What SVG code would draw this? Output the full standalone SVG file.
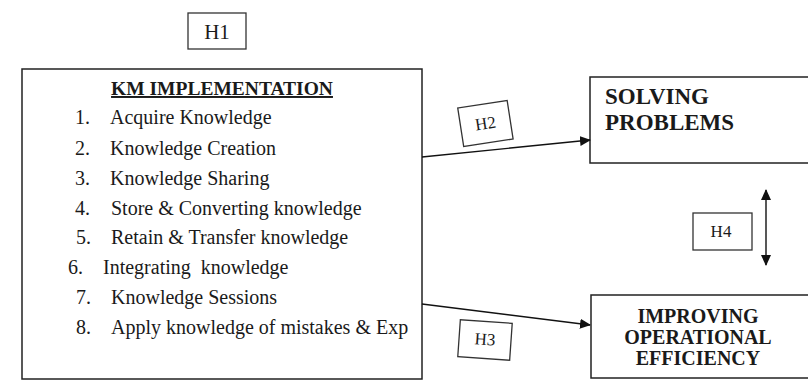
<svg xmlns="http://www.w3.org/2000/svg" width="808" height="385" viewBox="0 0 808 385">
<defs>
<style>
.box{fill:#fff;stroke:#222;stroke-width:1.5}
.lbl{fill:#fff;stroke:#333;stroke-width:1.3}
.t{font-family:"Liberation Serif","Times New Roman",serif;fill:#1a1a1a}
.item{font-size:20px;white-space:pre}
.hb{font-size:17px;text-anchor:middle}
.bold{font-weight:bold}
.conn{stroke:#111;stroke-width:1.4;fill:none}
</style>
<marker id="ah" markerWidth="11" markerHeight="10" refX="10" refY="5" orient="auto" markerUnits="userSpaceOnUse">
<path d="M0,0 L11,5 L0,10 Z" fill="#111"/>
</marker>
</defs>
<rect width="808" height="385" fill="#fff"/>

<g id="h1">
<rect class="lbl" x="188" y="13" width="58" height="36"/>
<text class="t" x="217" y="39" font-size="21" text-anchor="middle">H1</text>
</g>

<g id="km">
<rect class="box" x="22" y="69" width="400" height="310"/>
<text class="t bold" x="222" y="95" font-size="19.5" text-anchor="middle" text-decoration="underline">KM IMPLEMENTATION</text>
<g class="t item">
<text x="75" y="124">1.</text><text x="110" y="124">Acquire Knowledge</text>
<text x="75" y="155">2.</text><text x="110" y="155">Knowledge Creation</text>
<text x="75" y="185">3.</text><text x="110" y="185">Knowledge Sharing</text>
<text x="75" y="215">4.</text><text x="111" y="215">Store &amp; Converting knowledge</text>
<text x="76" y="244">5.</text><text x="111" y="244">Retain &amp; Transfer knowledge</text>
<text x="68" y="274">6.</text><text x="103" y="274" xml:space="preserve">Integrating  knowledge</text>
<text x="76" y="304">7.</text><text x="111" y="304">Knowledge Sessions</text>
<text x="76" y="334">8.</text><text x="111" y="334">Apply knowledge of mistakes &amp; Exp</text>
</g>
</g>

<g id="solving">
<rect class="box" x="590" y="77" width="230" height="86"/>
<text class="t bold" x="605" y="104" font-size="23">SOLVING</text>
<text class="t bold" x="605" y="130" font-size="23">PROBLEMS</text>
</g>

<g id="improving">
<rect class="box" x="591" y="295" width="230" height="83"/>
<text class="t bold" x="698" y="323" font-size="20" text-anchor="middle">IMPROVING</text>
<text class="t bold" x="698" y="344" font-size="20" text-anchor="middle">OPERATIONAL</text>
<text class="t bold" x="698" y="365" font-size="20" text-anchor="middle">EFFICIENCY</text>
</g>

<g id="connectors">
<line class="conn" x1="422" y1="157" x2="590" y2="140" marker-end="url(#ah)"/>
<line class="conn" x1="422" y1="304" x2="590" y2="325" marker-end="url(#ah)"/>
<line class="conn" x1="766" y1="226" x2="766" y2="190" marker-end="url(#ah)"/>
<line class="conn" x1="766" y1="226" x2="766" y2="265" marker-end="url(#ah)"/>
</g>

<g id="h2" transform="translate(485.5,124) rotate(-8.8)">
<rect class="lbl" x="-25" y="-20" width="50" height="39"/>
<text class="t hb" x="0" y="5">H2</text>
</g>

<g id="h3" transform="translate(485,340) rotate(4)">
<rect class="lbl" x="-26" y="-18.5" width="52" height="37"/>
<text class="t hb" x="0" y="5">H3</text>
</g>

<g id="h4">
<rect class="lbl" x="693" y="213" width="59" height="37"/>
<text class="t hb" x="721" y="237">H4</text>
</g>
</svg>
